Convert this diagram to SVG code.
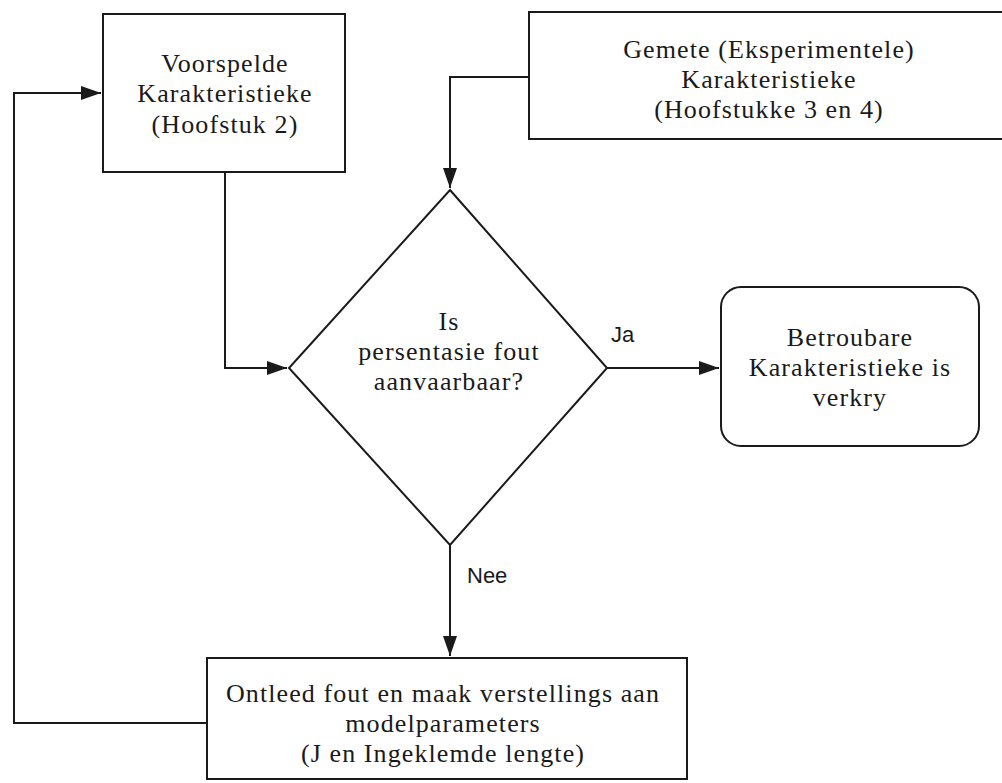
<svg xmlns="http://www.w3.org/2000/svg" width="1002" height="783" viewBox="0 0 1002 783">
<style>
.box{fill:#fff;stroke:#1a1a1a;stroke-width:2}
.t{font-family:"Liberation Serif","Times New Roman",serif;font-size:26px;letter-spacing:1.1px;fill:#1a1a1a;text-anchor:middle}
.s{font-family:"Liberation Sans",Arial,sans-serif;font-size:22px;fill:#1a1a1a}
.c{fill:none;stroke:#1a1a1a;stroke-width:2}
</style>
<defs>
<marker id="ah" markerUnits="userSpaceOnUse" markerWidth="22" markerHeight="16" refX="20" refY="7" orient="auto">
<path d="M0,0 L20,7 L0,14 Z" fill="#1a1a1a"/>
</marker>
</defs>
<rect width="1002" height="783" fill="#fff"/>
<g id="connectors">
<polyline class="c" points="225,172 225,368 287,368" marker-end="url(#ah)"/>
<polyline class="c" points="529,77 450,77 450,188" marker-end="url(#ah)"/>
<line class="c" x1="607" y1="368" x2="719" y2="368" marker-end="url(#ah)"/>
<line class="c" x1="450" y1="545" x2="450" y2="656" marker-end="url(#ah)"/>
<polyline class="c" points="207,723 14,723 14,93 101,93" marker-end="url(#ah)"/>
<text class="s" x="611" y="342">Ja</text>
<text class="s" x="467" y="583">Nee</text>
</g>
<g id="voorspelde">
<rect class="box" x="103" y="14" width="242" height="158"/>
<text class="t" x="225" y="72">Voorspelde</text>
<text class="t" x="225" y="102">Karakteristieke</text>
<text class="t" x="225" y="133">(Hoofstuk 2)</text>
</g>
<g id="gemete">
<rect class="box" x="529" y="12" width="478" height="127"/>
<text class="t" x="769" y="58">Gemete (Eksperimentele)</text>
<text class="t" x="769" y="88">Karakteristieke</text>
<text class="t" x="769" y="118">(Hoofstukke 3 en 4)</text>
</g>
<g id="besluit">
<polygon class="box" points="450,190 607,368 450,545 289,368"/>
<text class="t" x="449" y="330">Is</text>
<text class="t" x="449" y="360">persentasie fout</text>
<text class="t" x="449" y="390">aanvaarbaar?</text>
</g>
<g id="betroubare">
<rect class="box" x="721" y="287" width="258" height="159" rx="20" ry="20"/>
<text class="t" x="850" y="346">Betroubare</text>
<text class="t" x="850" y="376">Karakteristieke is</text>
<text class="t" x="850" y="406">verkry</text>
</g>
<g id="ontleed">
<rect class="box" x="207" y="658" width="480" height="121"/>
<text class="t" x="443" y="702">Ontleed fout en maak verstellings aan</text>
<text class="t" x="443" y="732">modelparameters</text>
<text class="t" x="443" y="762">(J en Ingeklemde lengte)</text>
</g>
</svg>
